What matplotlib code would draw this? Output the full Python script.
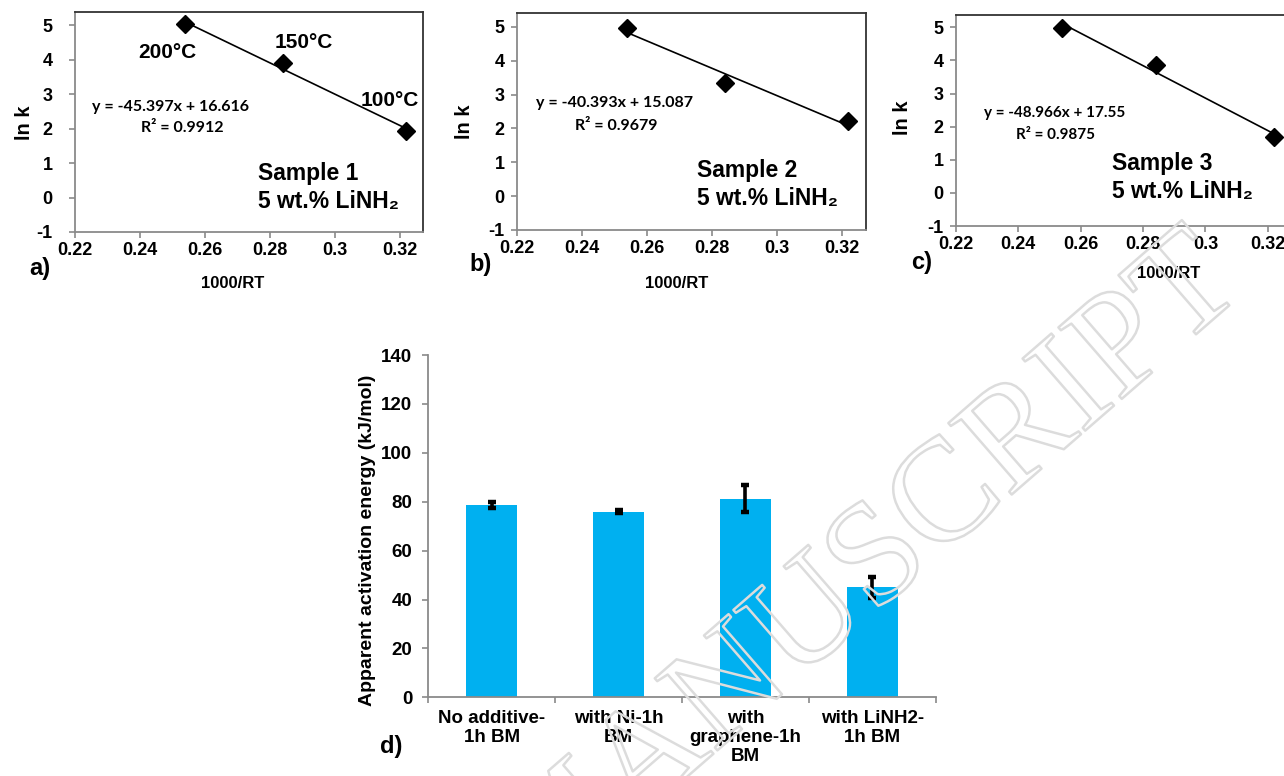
import matplotlib
matplotlib.use("Agg")
import matplotlib.pyplot as plt
import matplotlib.patheffects as pe
import numpy as np

# ---- data -------------------------------------------------------------
inv_rt = [0.254, 0.284, 0.322]          # 1000/RT for 200, 150, 100 °C

lnk_s1 = [5.02, 3.90, 1.92]
lnk_s2 = [4.97, 3.35, 2.23]
lnk_s3 = [4.97, 3.86, 1.69]

fit_s1 = (-45.397, 16.616, 0.9912)
fit_s2 = (-40.393, 15.087, 0.9679)
fit_s3 = (-48.966, 17.55, 0.9875)

temp_labels = ["200°C", "150°C", "100°C"]
x_ticks = [0.22, 0.24, 0.26, 0.28, 0.30, 0.32]
x_ticklabels = ["0.22", "0.24", "0.26", "0.28", "0.3", "0.32"]
y_ticks = [-1, 0, 1, 2, 3, 4, 5]

categories = ["No additive-\n1h BM", "with Ni-1h\nBM",
              "with\ngraphene-1h\nBM", "with LiNH2-\n1h BM"]
ea_values = [78.8, 75.9, 81.3, 45.0]
ea_errors = [1.2, 0.6, 5.5, 4.4]

# ---- figure -------------------------------------------------------------
W, H = 1284, 776
plt.rcParams["font.family"] = ["Liberation Sans", "DejaVu Sans"]
plt.rcParams["axes.unicode_minus"] = False
fig = plt.figure(figsize=(W / 100, H / 100), dpi=100)

def fx(x):
    return x / W

def fy(y):
    return 1 - y / H

def axes_px(left, top, right, bottom):
    return fig.add_axes([fx(left), fy(bottom), (right - left) / W, (bottom - top) / H])

BOLD = dict(fontweight="bold", color="black")
GRAY = "#8a8a8a"

def arrhenius_panel(box, xmax, ymax, lnk, fit, ypad):
    ax = axes_px(*box)
    slope, icpt, r2 = fit
    ax.plot(inv_rt, lnk, linestyle="none", marker="D", ms=9.5,
            color="black", zorder=3, clip_on=False)
    xl = np.array([inv_rt[0], inv_rt[-1]])
    ax.plot(xl, slope * xl + icpt, color="black", lw=1.2, zorder=2)
    ax.set_xlim(0.22, xmax)
    ax.set_ylim(-1, ymax)
    ax.set_xticks(x_ticks)
    ax.set_xticklabels(x_ticklabels)
    ax.set_yticks(y_ticks)
    for s in ("left", "bottom"):
        ax.spines[s].set_color(GRAY)
        ax.spines[s].set_linewidth(1.3)
    for s in ("top", "right"):
        ax.spines[s].set_color("#333333")
        ax.spines[s].set_linewidth(1.3)
    ax.tick_params(axis="both", direction="out", length=4, width=1.2,
                   color=GRAY, labelsize=13)
    ax.tick_params(axis="x", pad=3)
    ax.tick_params(axis="y", pad=ypad)
    for lab in ax.get_xticklabels() + ax.get_yticklabels():
        lab.set_fontweight("bold")
    return ax

ax_a = arrhenius_panel((75, 12, 423, 232), 0.3271, 5.38, lnk_s1, fit_s1, 12)
ax_b = arrhenius_panel((517, 13, 866, 230), 0.3274, 5.41, lnk_s2, fit_s2, 5)
ax_c = arrhenius_panel((956, 15, 1299, 226), 0.3300, 5.37, lnk_s3, fit_s3, 5)

# temperature annotations on panel a
for (px, py), t in zip([(167, 52), (304, 43), (390, 100)], temp_labels):
    fig.text(fx(px), fy(py), t, ha="center", va="center", fontsize=15, **BOLD)

# trendline equations
def equation(fit, p1, p2, size):
    slope, icpt, r2 = fit
    fam = ["Lato", "DejaVu Sans"]
    fig.text(fx(p1[0]), fy(p1[1]), f"y = {slope:g}x + {icpt:g}",
             ha="center", va="center", fontsize=size, family=fam, **BOLD)
    fig.text(fx(p2[0]), fy(p2[1]), f"R² = {r2:.4f}",
             ha="center", va="center", fontsize=size, family=fam, **BOLD)

equation(fit_s1, (171, 107), (182, 128), 11.5)
equation(fit_s2, (614, 103), (616, 126), 11.5)
equation(fit_s3, (1055, 113), (1055, 135), 11)

# sample captions
for (px, py), n in zip([(258, 180), (697, 177), (1112, 170)], [1, 2, 3]):
    fig.text(fx(px), fy(py), f"Sample {n}", ha="left", va="baseline", fontsize=16.5, **BOLD)
    fig.text(fx(px), fy(py + 28), "5 wt.% LiNH₂", ha="left", va="baseline",
             fontsize=16.5, **BOLD)

# axis titles and panel letters of the Arrhenius plots
for (lx, ly), (tx, ty) in zip([(25, 123), (465, 122), (903, 118)],
                              [(233, 283), (677, 283), (1169, 273)]):
    fig.text(fx(lx), fy(ly), "ln k", rotation=90, ha="center", va="center",
             fontsize=14.5, **BOLD)
    fig.text(fx(tx), fy(ty), "1000/RT", ha="center", va="center", fontsize=12, **BOLD)

for (px, py), s in zip([(40, 269), (481, 265), (922, 262), (391, 746)],
                       ["a)", "b)", "c)", "d)"]):
    fig.text(fx(px), fy(py), s, ha="center", va="center", fontsize=17, **BOLD)

# ---- bar chart of activation energies ----------------------------------
ax_d = axes_px(428.3, 355, 935.7, 697.3)
xpos = np.arange(len(categories))
ax_d.bar(xpos, ea_values, width=0.4, color="#00B0F0", zorder=2)
ax_d.errorbar(xpos, ea_values, yerr=ea_errors, fmt="none", ecolor="black",
              elinewidth=2.6, capsize=3, capthick=3.2, zorder=3)
ax_d.set_xlim(-0.5, len(categories) - 0.5)
ax_d.set_ylim(0, 140)
ax_d.set_yticks(np.arange(0, 141, 20))
ax_d.set_xticks(xpos)
ax_d.set_xticklabels(categories, fontsize=13.5, fontweight="bold", linespacing=1.15)
ax_d.set_xticks(np.arange(-0.5, len(categories), 1.0), minor=True)
ax_d.tick_params(axis="x", which="major", length=0, pad=9)
ax_d.tick_params(axis="x", which="minor", direction="out", length=4.5, width=1.2, color=GRAY)
ax_d.tick_params(axis="y", direction="out", length=4.5, width=1.2, color=GRAY,
                 labelsize=13.5, pad=7)
for lab in ax_d.get_yticklabels():
    lab.set_fontweight("bold")
for s in ("top", "right"):
    ax_d.spines[s].set_visible(False)
for s in ("left", "bottom"):
    ax_d.spines[s].set_color(GRAY)
    ax_d.spines[s].set_linewidth(1.3)
fig.text(fx(367), fy(540), "Apparent activation energy (kJ/mol)", rotation=90,
         ha="center", va="center", fontsize=14, **BOLD)

# ---- outlined diagonal watermark ---------------------------------------
fig.text(fx(1247), fy(290), "ACCEPTED MANUSCRIPT", rotation=41, rotation_mode="anchor",
         ha="right", va="baseline", fontsize=105, color="none",
         family=["Liberation Serif", "DejaVu Serif"], zorder=10,
         path_effects=[pe.Stroke(linewidth=1.8, foreground="#dcdcdc")])

fig.savefig("out.png", dpi=100)
